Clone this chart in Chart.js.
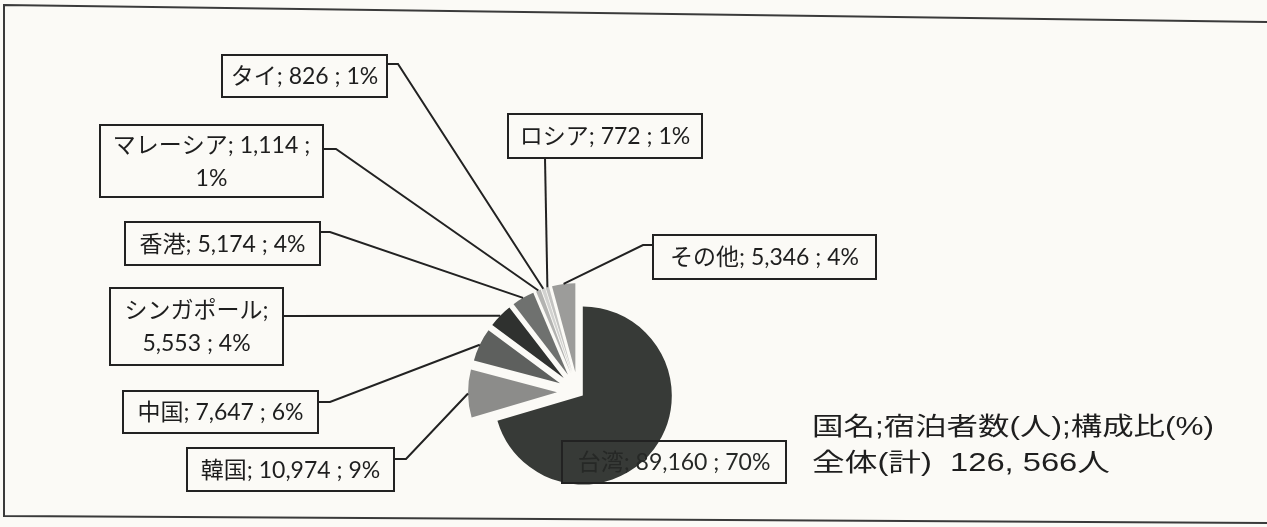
<!DOCTYPE html>
<html>
<head>
<meta charset="utf-8">
<script src="https://cdn.jsdelivr.net/npm/chart.js@4.4.1/dist/chart.umd.min.js"></script>
<style>
  html, body { margin: 0; padding: 0; background: #fbfaf6; }
  #wrap { position: relative; width: 1267px; height: 527px; overflow: hidden; }
  canvas { position: absolute; left: 0; top: 0; }
</style>
</head>
<body>
<div id="wrap"><canvas id="pie" width="1267" height="527"></canvas></div>
<script>
// 国別宿泊者数 (clockwise from 12 o'clock)
const countries = ["台湾", "韓国", "中国", "シンガポール", "香港", "マレーシア", "タイ", "ロシア", "その他"];
const guests = [89160, 10974, 7647, 5553, 5174, 1114, 826, 772, 5346];
const shares = [70, 9, 6, 4, 4, 1, 1, 1, 4];
const noteLines = ["国名;宿泊者数(人);構成比(%)", "全体(計)  126, 566人"];

const sliceColors = ["#373a37", "#8c8c8a", "#5e605e", "#2f312f", "#6f716f", "#b3b3b1", "#d2d2d0", "#c4c4c2", "#9c9c9a"];
const explode = [6, 21, 20, 20, 20, 20, 20, 20, 20];

// label boxes: x, y, w, h, where the line breaks, leader start and knee
const boxes = [
  { x: 562, y: 441, w: 224, h: 42, wrap: null, leader: null },
  { x: 187, y: 448, w: 207, h: 43, wrap: null, leader: [[394, 459], [406, 459]] },
  { x: 123, y: 391, w: 195, h: 42, wrap: null, leader: [[318, 402], [330, 402]] },
  { x: 110, y: 288, w: 173, h: 77, wrap: "name", leader: [[283, 316]] },
  { x: 125, y: 222, w: 195, h: 43, wrap: null, leader: [[320, 232], [330, 232]] },
  { x: 100, y: 125, w: 223, h: 72, wrap: "value", leader: [[323, 149], [336, 149]] },
  { x: 222, y: 55, w: 165, h: 42, wrap: null, leader: [[387, 64], [398, 64]] },
  { x: 508, y: 114, w: 194, h: 44, wrap: null, leader: [[545, 158]] },
  { x: 653, y: 235, w: 223, h: 44, wrap: null, leader: [[653, 245], [643, 245]] }
];

function fmt(n) { return n.toLocaleString("en-US"); }

function labelLines(i) {
  const name = countries[i], v = fmt(guests[i]), p = shares[i] + "%";
  const wrap = boxes[i].wrap;
  if (wrap === "name") return [name + ";", v + " ; " + p];
  if (wrap === "value") return [name + "; " + v + " ;", p];
  return [name + "; " + v + " ; " + p];
}

const explodedArcs = {
  id: "explodedArcs",
  beforeDatasetDraw(chart) {
    const ctx = chart.ctx;
    chart.getDatasetMeta(0).data.forEach((arc, i) => {
      const mid = (arc.startAngle + arc.endAngle) / 2;
      ctx.save();
      ctx.translate(Math.cos(mid) * explode[i], Math.sin(mid) * explode[i]);
      arc.draw(ctx);
      ctx.restore();
    });
    return false;
  }
};

const labelsAndFrame = {
  id: "labelsAndFrame",
  afterDraw(chart) {
    const ctx = chart.ctx;
    const arcs = chart.getDatasetMeta(0).data;

    // scanned page frame
    ctx.save();
    ctx.strokeStyle = "#3a3a3a";
    ctx.lineWidth = 2;
    ctx.beginPath();
    ctx.moveTo(1270, 22);
    ctx.lineTo(4, 5);
    ctx.lineTo(4, 516);
    ctx.lineTo(1270, 523);
    ctx.stroke();

    // leader lines
    ctx.strokeStyle = "#222";
    ctx.lineWidth = 2;
    arcs.forEach((arc, i) => {
      const b = boxes[i];
      if (!b.leader) return;
      const mid = (arc.startAngle + arc.endAngle) / 2;
      const r = arc.outerRadius + explode[i];
      const ex = arc.x + Math.cos(mid) * r, ey = arc.y + Math.sin(mid) * r;
      ctx.beginPath();
      ctx.moveTo(b.leader[0][0], b.leader[0][1]);
      for (let k = 1; k < b.leader.length; k++) ctx.lineTo(b.leader[k][0], b.leader[k][1]);
      ctx.lineTo(ex, ey);
      ctx.stroke();
    });

    // label boxes
    ctx.font = "23px Lato, 'Noto Sans CJK JP'";
    ctx.textAlign = "center";
    ctx.textBaseline = "middle";
    arcs.forEach((arc, i) => {
      const b = boxes[i];
      if (i !== 0) {
        ctx.fillStyle = "#fbfaf6";
        ctx.fillRect(b.x, b.y, b.w, b.h);
      }
      ctx.strokeStyle = "#222";
      ctx.lineWidth = 2;
      ctx.strokeRect(b.x, b.y, b.w, b.h);
      ctx.fillStyle = i === 0 ? "#262826" : "#1e1e1e";
      const lines = labelLines(i);
      const lh = 33;
      const cy = b.y + b.h / 2 - (lines.length - 1) * lh / 2;
      lines.forEach((t, k) => ctx.fillText(t, b.x + b.w / 2, cy + k * lh + 1));
    });

    // note text
    ctx.textAlign = "left";
    ctx.fillStyle = "#1e1e1e";
    ctx.font = "25px 'Liberation Sans', 'Noto Sans CJK JP'";
    const widths = [402, 298];
    const ys = [428, 464];
    noteLines.forEach((t, k) => {
      const w = ctx.measureText(t).width;
      ctx.save();
      ctx.translate(812, ys[k]);
      ctx.scale(widths[k] / w, 1);
      ctx.fillText(t, 0, 0);
      ctx.restore();
    });
    ctx.restore();
  }
};

new Chart(document.getElementById("pie"), {
  type: "pie",
  data: {
    labels: countries,
    datasets: [{
      data: guests,
      backgroundColor: sliceColors,
      borderWidth: 0,
      offset: 0,
      hoverOffset: 0
    }]
  },
  options: {
    responsive: false,
    animation: false,
    radius: 89,
    layout: { padding: { left: 0, right: 111, top: 257, bottom: 0 } },
    plugins: { legend: { display: false }, tooltip: { enabled: false } },
    events: []
  },
  plugins: [explodedArcs, labelsAndFrame]
});
</script>
</body>
</html>
